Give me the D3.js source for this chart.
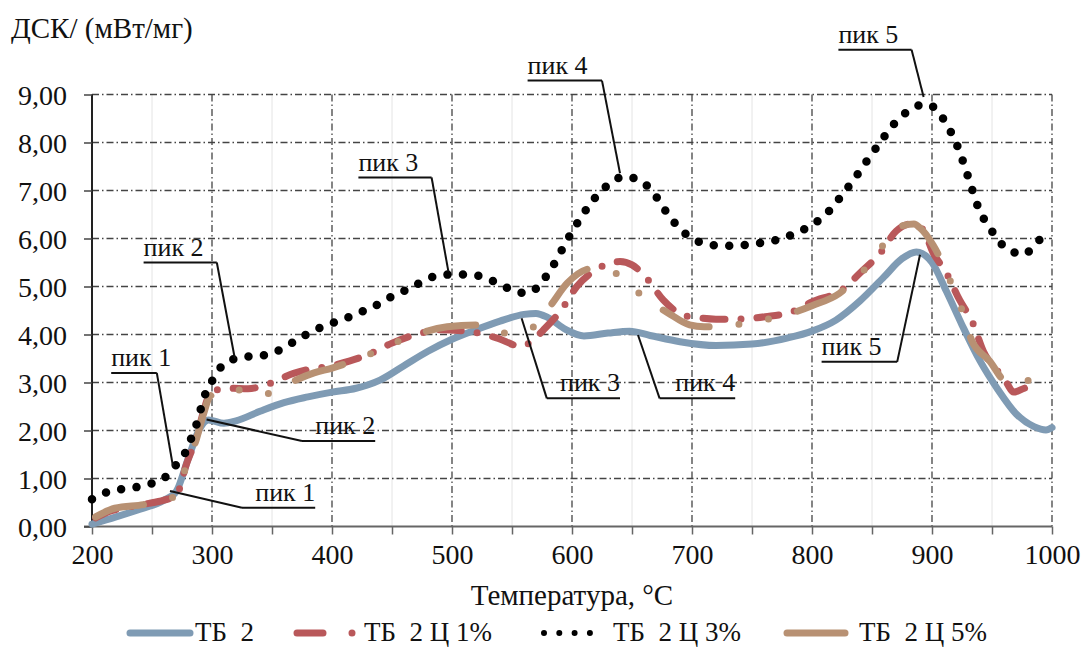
<!DOCTYPE html>
<html>
<head>
<meta charset="utf-8">
<script src="https://cdn.jsdelivr.net/npm/d3@7"></script>
<style>
  body { margin: 0; background: #fff; }
  svg text { fill: #111; }
</style>
</head>
<body>
<svg id="chart" width="1083" height="647"></svg>
<script>
// Data: [temperature, DSC value]
var tb2 = [[200,0.05],[220,0.2],[240,0.36],[260,0.55],[270,0.72],[280,1.4],[290,2.05],[297,2.22],
  [310,2.15],[320,2.2],[340,2.4],[360,2.58],[380,2.7],[400,2.8],[420,2.88],[440,3.05],[460,3.35],
  [480,3.65],[500,3.9],[520,4.1],[540,4.28],[560,4.42],[570,4.44],[580,4.35],[595,4.1],[610,3.97],
  [630,4.03],[648,4.07],[665,3.98],[690,3.85],[720,3.77],[750,3.8],[780,3.93],[800,4.07],[820,4.3],
  [840,4.7],[860,5.2],[875,5.58],[887,5.72],[900,5.5],[912,4.9],[925,4.2],[940,3.45],[955,2.85],
  [970,2.35],[985,2.08],[995,2.01],[1000,2.06]];

var tb2c1 = [[203,0.18],[215,0.32],[225,0.38],[245,0.47],[260,0.55],[270,0.64],[279,1.32],[287,1.85],
  [293,2.4],[298,2.75],[305,2.85],[315,2.88],[330,2.87],[345,2.95],[368,3.19],[380,3.27],[400,3.35],
  [415,3.45],[428,3.56],[450,3.82],[470,4.0],[490,4.1],[515,4.06],[537,3.93],[558,3.75],[566,3.85],
  [576,4.09],[591,4.51],[604,5.0],[622,5.38],[640,5.52],[650,5.45],[662,5.18],[676,4.72],[693,4.4],
  [705,4.35],[720,4.32],[738,4.32],[761,4.37],[783,4.47],[800,4.68],[825,4.93],[840,5.28],[857,5.7],
  [870,6.15],[882,6.3],[892,6.2],[901,5.7],[912,5.28],[923,4.72],[934,4.24],[943,3.64],[954,3.26],
  [962,3.0],[968,2.8],[977,2.88],[987,2.95]];

var tb2c3 = [[200,0.57],[212,0.71],[225,0.78],[237,0.82],[250,0.9],[262,1.05],[270,1.28],[278,1.55],
  [283,1.86],[288,2.2],[291,2.48],[295,2.8],[301,3.07],[308,3.34],[320,3.5],[333,3.55],[346,3.58],
  [358,3.7],[369,3.86],[380,4.02],[392,4.16],[404,4.27],[417,4.39],[428,4.51],[440,4.65],[451,4.81],
  [464,4.95],[475,5.1],[487,5.22],[500,5.25],[513,5.25],[526,5.2],[538,5.07],[550,4.93],[561,4.86],
  [573,5.03],[580,5.27],[587,5.55],[593,5.83],[600,6.14],[607,6.42],[614,6.68],[622,6.93],[632,7.15],
  [643,7.29],[655,7.23],[666,7.01],[673,6.77],[680,6.5],[689,6.23],[698,6.03],[710,5.9],[723,5.85],
  [736,5.85],[749,5.88],[762,5.93],[775,6.0],[787,6.12],[799,6.27],[809,6.45],[818,6.68],[826,6.94],
  [834,7.2],[842,7.48],[849,7.74],[857,8.0],[864,8.26],[873,8.5],[883,8.71],[896,8.8],[906,8.61],
  [913,8.34],[919,8.05],[924,7.74],[928,7.44],[932,7.14],[936,6.82],[941,6.51],[948,6.23],[955,5.97],
  [964,5.76],[977,5.67],[986,5.89],[996,6.11]];

var tb2c5 = [[203,0.2],[219,0.38],[244,0.46],[260,0.55],[270,0.65],[279,1.3],[287,1.82],[293,2.35],
  [298,2.7],[308,2.84],[318,2.86],[330,2.8],[340,2.74],[355,2.85],[370,3.05],[385,3.2],[400,3.3],
  [425,3.52],[448,3.78],[470,4.0],[496,4.16],[520,4.2],[544,4.03],[556,4.05],[568,4.16],[582,4.6],
  [596,5.07],[618,5.38],[641,5.22],[659,4.79],[680,4.45],[698,4.2],[710,4.16],[723,4.16],[750,4.27],
  [773,4.37],[800,4.6],[823,4.86],[837,5.17],[855,5.7],[870,6.22],[885,6.3],[890,6.22],[901,5.86],
  [915,5.13],[925,4.51],[933,3.88],[948,3.45],[962,3.02],[975,3.0],[986,3.1],[995,3.08]];

var seriesNames = ["ТБ\u00a0\u00a02", "ТБ\u00a0\u00a02 Ц 1%", "ТБ\u00a0\u00a02 Ц 3%", "ТБ\u00a0\u00a02 Ц 5%"];

var xMajorTicks = [200, 300, 400, 500, 600, 700, 800, 900, 1000];
var xMinorTicks = [250, 350, 450, 550, 650, 750, 850, 950];
var yTicks = [0, 1, 2, 3, 4, 5, 6, 7, 8, 9];
var yTickLabels = ["0,00", "1,00", "2,00", "3,00", "4,00", "5,00", "6,00", "7,00", "8,00", "9,00"];

// peak callouts, in data units: underline from x1 to x2 at y, leader to (px, py)
var peaks = [
  {label: "пик 1", x1: 216, x2: 254, y: 3.20, px: 267.5, py: 1.25, side: "right"},
  {label: "пик 1", x1: 325, x2: 386, y: 0.39, px: 265, py: 0.74, side: "left"},
  {label: "пик 2", x1: 375, x2: 436, y: 1.78, px: 295.5, py: 2.23, side: "left"},
  {label: "пик 2", x1: 243, x2: 304, y: 5.50, px: 319, py: 3.50, side: "right"},
  {label: "пик 3", x1: 422, x2: 483, y: 7.27, px: 497, py: 5.31, side: "right"},
  {label: "пик 3", x1: 579, x2: 640, y: 2.67, px: 558, py: 4.34, side: "left"},
  {label: "пик 4", x1: 673, x2: 736, y: 2.67, px: 655, py: 3.99, side: "left"},
  {label: "пик 4", x1: 563, x2: 625, y: 9.29, px: 640, py: 7.36, side: "right"},
  {label: "пик 5", x1: 822, x2: 883, y: 9.93, px: 893, py: 8.95, side: "right"},
  {label: "пик 5", x1: 808, x2: 871, y: 3.43, px: 890, py: 5.66, side: "right"}
];

// pick the first serif face that the machine actually has
function pickFont(candidates) {
  var ctx = document.createElement("canvas").getContext("2d");
  var probe = "ДСК/ (мВт/мг) Температура 0123456789";
  for (var i = 0; i < candidates.length; i++) {
    var found = ["monospace", "sans-serif"].some(function(base) {
      ctx.font = "28px " + base;
      var w0 = ctx.measureText(probe).width;
      ctx.font = '28px "' + candidates[i] + '", ' + base;
      return ctx.measureText(probe).width !== w0;
    });
    if (found) return '"' + candidates[i] + '", serif';
  }
  return "serif";
}
var serif = pickFont(["Liberation Serif", "Times New Roman", "Tinos", "Times", "DejaVu Serif",
  "Noto Serif", "FreeSerif", "Nimbus Roman", "Nimbus Roman No9 L", "Source Serif Pro"]);

var svg = d3.select("#chart").style("font-family", serif);

// plot area
var x = d3.scaleLinear().domain([200, 1000]).range([92, 1052]);
var y = d3.scaleLinear().domain([0, 9]).range([526.5, 94.5]);

// minor vertical grid (faint)
svg.append("g").selectAll("line")
  .data(xMinorTicks).enter().append("line")
  .attr("x1", d => x(d)).attr("x2", d => x(d))
  .attr("y1", y(9)).attr("y2", y(0))
  .attr("stroke", "#e4e4e4").attr("stroke-width", 1);

// major grid, dash-dot
var gridDash = "7 3 1.5 3";
svg.append("g").selectAll("line")
  .data(yTicks.filter(d => d > 0)).enter().append("line")
  .attr("x1", x(200)).attr("x2", x(1000))
  .attr("y1", d => y(d)).attr("y2", d => y(d))
  .attr("stroke", "#444").attr("stroke-width", 1.3)
  .attr("stroke-dasharray", gridDash);

svg.append("g").selectAll("line")
  .data(xMajorTicks.filter(d => d > 200)).enter().append("line")
  .attr("x1", d => x(d)).attr("x2", d => x(d))
  .attr("y1", y(9)).attr("y2", y(0))
  .attr("stroke", "#444").attr("stroke-width", 1.3)
  .attr("stroke-dasharray", gridDash);

// Axes
var xAxis = d3.axisBottom(x)
  .tickValues(xMajorTicks.concat(xMinorTicks))
  .tickSize(8)
  .tickFormat(d => xMajorTicks.indexOf(d) >= 0 ? d : "");
var gx = svg.append("g")
  .attr("transform", `translate(0, ${y(0)})`)
  .call(xAxis)
  .attr("font-family", null)
  .attr("font-size", 28);
gx.select(".domain").attr("stroke", "#666").attr("stroke-width", 2)
  .attr("d", `M${x(200) - 8},0H${x(1000)}`);
gx.selectAll(".tick line").attr("stroke", "#666").attr("stroke-width", 1.5);
gx.selectAll(".tick text")
  .attr("y", 37).attr("dy", 0)
  .attr("fill", "#111");

var yAxis = d3.axisLeft(y)
  .tickValues(yTicks)
  .tickSize(8)
  .tickFormat((d, i) => yTickLabels[i]);
var gy = svg.append("g")
  .attr("transform", `translate(${x(200)}, 0)`)
  .call(yAxis)
  .attr("font-family", null)
  .attr("font-size", 28);
gy.select(".domain").attr("stroke", "#222").attr("stroke-width", 2)
  .attr("d", `M0,${y(9)}V${y(0)}`);
gy.selectAll(".tick line").attr("stroke", "#444").attr("stroke-width", 1.5);
gy.selectAll(".tick text")
  .attr("x", -25).attr("dy", "0.34em")
  .attr("fill", "#111");

// axis titles
svg.append("text")
  .attr("x", 11).attr("y", 38)
  .style("font-size", "29px")
  .text("ДСК/ (мВт/мг)");

svg.append("text")
  .attr("x", (x(200) + x(1000)) / 2).attr("y", 605)
  .attr("text-anchor", "middle")
  .style("font-size", "29px")
  .text("Температура, °С");

// Series
var line = d3.line()
  .x(d => x(d[0]))
  .y(d => y(d[1]))
  .curve(d3.curveMonotoneX);

var styles = [
  {data: tb2, color: "#7f9bb4", width: 7, dash: null},
  {data: tb2c1, color: "#b9585a", width: 7, dash: "22 16 0 16"},
  {data: tb2c5, color: "#b89173", width: 7, dash: "50 30 0 30 0 30"},
  {data: tb2c3, color: "#000", width: 8.5, dash: "0 15.5"}
];

styles.forEach(function(s) {
  svg.append("path")
    .datum(s.data)
    .attr("d", line)
    .attr("fill", "none")
    .attr("stroke", s.color)
    .attr("stroke-width", s.width)
    .attr("stroke-linecap", "round")
    .attr("stroke-linejoin", "round")
    .attr("stroke-dasharray", s.dash);
});

// Peak callouts
var callouts = svg.append("g");
peaks.forEach(function(p) {
  var uy = y(p.y);
  var from = p.side === "right" ? x(p.x2) : x(p.x1);
  callouts.append("line")
    .attr("x1", x(p.x1)).attr("y1", uy)
    .attr("x2", x(p.x2)).attr("y2", uy)
    .attr("stroke", "#111").attr("stroke-width", 2);
  callouts.append("line")
    .attr("x1", from).attr("y1", uy)
    .attr("x2", x(p.px)).attr("y2", y(p.py))
    .attr("stroke", "#111").attr("stroke-width", 2);
  callouts.append("text")
    .attr("x", p.side === "right" ? x(p.x1) : x(p.x2))
    .attr("y", uy - 7)
    .attr("text-anchor", p.side === "right" ? "start" : "end")
    .style("font-size", "26px")
    .text(p.label);
});

// Legend
var legendY = 633;
var legend = svg.append("g");
var legendItems = [
  {x1: 130, x2: 190, tx: 195, color: "#7f9bb4", width: 7, dash: null},
  {x1: 297, x2: 353, tx: 364, color: "#b9585a", width: 7, dash: "26 29 0 100"},
  {x1: 544, x2: 590, tx: 613, color: "#000", width: 6, dash: "0 15.3"},
  {x1: 787, x2: 845, tx: 859, color: "#b89173", width: 7, dash: null}
];
legendItems.forEach(function(it, i) {
  legend.append("line")
    .attr("x1", it.x1).attr("x2", it.x2)
    .attr("y1", legendY).attr("y2", legendY)
    .attr("stroke", it.color).attr("stroke-width", it.width)
    .attr("stroke-linecap", "round")
    .attr("stroke-dasharray", it.dash);
  legend.append("text")
    .attr("x", it.tx).attr("y", legendY + 8)
    .style("font-size", "27px")
    .text(seriesNames[i]);
});
</script>
</body>
</html>
